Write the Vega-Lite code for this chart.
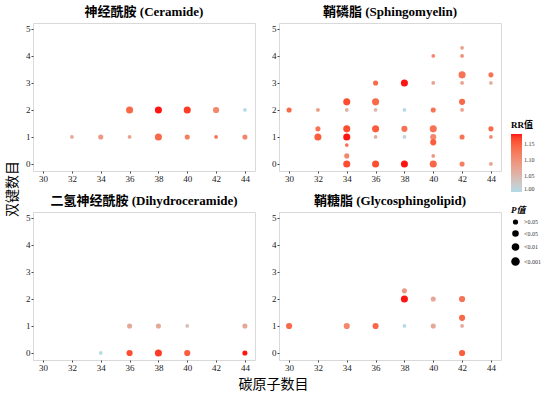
{
  "$schema": "https://vega.github.io/schema/vega-lite/v6.json",
  "background": "white",
  "padding": 5,
  "data": {"values": [
    {"class": "神经酰胺 (Ceramide)", "carbon": 36, "db": 2, "RR": 1.14, "P": "<0.001"},
    {"class": "神经酰胺 (Ceramide)", "carbon": 38, "db": 2, "RR": 1.18, "P": "<0.001"},
    {"class": "神经酰胺 (Ceramide)", "carbon": 40, "db": 2, "RR": 1.17, "P": "<0.001"},
    {"class": "神经酰胺 (Ceramide)", "carbon": 42, "db": 2, "RR": 1.11, "P": "<0.01"},
    {"class": "神经酰胺 (Ceramide)", "carbon": 44, "db": 2, "RR": 1.00, "P": ">0.05"},
    {"class": "神经酰胺 (Ceramide)", "carbon": 32, "db": 1, "RR": 1.07, "P": ">0.05"},
    {"class": "神经酰胺 (Ceramide)", "carbon": 34, "db": 1, "RR": 1.09, "P": "<0.05"},
    {"class": "神经酰胺 (Ceramide)", "carbon": 36, "db": 1, "RR": 1.08, "P": ">0.05"},
    {"class": "神经酰胺 (Ceramide)", "carbon": 38, "db": 1, "RR": 1.14, "P": "<0.001"},
    {"class": "神经酰胺 (Ceramide)", "carbon": 40, "db": 1, "RR": 1.12, "P": "<0.05"},
    {"class": "神经酰胺 (Ceramide)", "carbon": 42, "db": 1, "RR": 1.13, "P": ">0.05"},
    {"class": "神经酰胺 (Ceramide)", "carbon": 44, "db": 1, "RR": 1.11, "P": "<0.05"},

    {"class": "鞘磷脂 (Sphingomyelin)", "carbon": 30, "db": 2, "RR": 1.14, "P": "<0.05"},
    {"class": "鞘磷脂 (Sphingomyelin)", "carbon": 32, "db": 2, "RR": 1.09, "P": ">0.05"},
    {"class": "鞘磷脂 (Sphingomyelin)", "carbon": 32, "db": 1.3, "RR": 1.13, "P": "<0.05"},
    {"class": "鞘磷脂 (Sphingomyelin)", "carbon": 32, "db": 1, "RR": 1.15, "P": "<0.001"},
    {"class": "鞘磷脂 (Sphingomyelin)", "carbon": 34, "db": 2.3, "RR": 1.16, "P": "<0.001"},
    {"class": "鞘磷脂 (Sphingomyelin)", "carbon": 34, "db": 2, "RR": 1.06, "P": ">0.05"},
    {"class": "鞘磷脂 (Sphingomyelin)", "carbon": 34, "db": 1.3, "RR": 1.16, "P": "<0.001"},
    {"class": "鞘磷脂 (Sphingomyelin)", "carbon": 34, "db": 1, "RR": 1.18, "P": "<0.001"},
    {"class": "鞘磷脂 (Sphingomyelin)", "carbon": 34, "db": 0.7, "RR": 1.13, "P": ">0.05"},
    {"class": "鞘磷脂 (Sphingomyelin)", "carbon": 34, "db": 0.3, "RR": 1.11, "P": "<0.05"},
    {"class": "鞘磷脂 (Sphingomyelin)", "carbon": 34, "db": 0, "RR": 1.16, "P": "<0.001"},
    {"class": "鞘磷脂 (Sphingomyelin)", "carbon": 36, "db": 3, "RR": 1.14, "P": "<0.05"},
    {"class": "鞘磷脂 (Sphingomyelin)", "carbon": 36, "db": 2.3, "RR": 1.14, "P": "<0.001"},
    {"class": "鞘磷脂 (Sphingomyelin)", "carbon": 36, "db": 2, "RR": 1.05, "P": ">0.05"},
    {"class": "鞘磷脂 (Sphingomyelin)", "carbon": 36, "db": 1.3, "RR": 1.15, "P": "<0.001"},
    {"class": "鞘磷脂 (Sphingomyelin)", "carbon": 36, "db": 1, "RR": 1.06, "P": ">0.05"},
    {"class": "鞘磷脂 (Sphingomyelin)", "carbon": 36, "db": 0, "RR": 1.16, "P": "<0.001"},
    {"class": "鞘磷脂 (Sphingomyelin)", "carbon": 38, "db": 3, "RR": 1.18, "P": "<0.001"},
    {"class": "鞘磷脂 (Sphingomyelin)", "carbon": 38, "db": 2, "RR": 1.00, "P": ">0.05"},
    {"class": "鞘磷脂 (Sphingomyelin)", "carbon": 38, "db": 1.3, "RR": 1.13, "P": "<0.01"},
    {"class": "鞘磷脂 (Sphingomyelin)", "carbon": 38, "db": 1, "RR": 1.01, "P": ">0.05"},
    {"class": "鞘磷脂 (Sphingomyelin)", "carbon": 38, "db": 0, "RR": 1.18, "P": "<0.001"},
    {"class": "鞘磷脂 (Sphingomyelin)", "carbon": 40, "db": 4, "RR": 1.11, "P": ">0.05"},
    {"class": "鞘磷脂 (Sphingomyelin)", "carbon": 40, "db": 3, "RR": 1.08, "P": ">0.05"},
    {"class": "鞘磷脂 (Sphingomyelin)", "carbon": 40, "db": 2, "RR": 1.13, "P": "<0.05"},
    {"class": "鞘磷脂 (Sphingomyelin)", "carbon": 40, "db": 1.3, "RR": 1.13, "P": "<0.001"},
    {"class": "鞘磷脂 (Sphingomyelin)", "carbon": 40, "db": 1, "RR": 1.11, "P": "<0.01"},
    {"class": "鞘磷脂 (Sphingomyelin)", "carbon": 40, "db": 0.8, "RR": 1.15, "P": "<0.01"},
    {"class": "鞘磷脂 (Sphingomyelin)", "carbon": 40, "db": 0.3, "RR": 1.09, "P": ">0.05"},
    {"class": "鞘磷脂 (Sphingomyelin)", "carbon": 40, "db": 0, "RR": 1.14, "P": "<0.001"},
    {"class": "鞘磷脂 (Sphingomyelin)", "carbon": 42, "db": 4.3, "RR": 1.08, "P": ">0.05"},
    {"class": "鞘磷脂 (Sphingomyelin)", "carbon": 42, "db": 4, "RR": 1.10, "P": ">0.05"},
    {"class": "鞘磷脂 (Sphingomyelin)", "carbon": 42, "db": 3.3, "RR": 1.13, "P": "<0.001"},
    {"class": "鞘磷脂 (Sphingomyelin)", "carbon": 42, "db": 3, "RR": 1.08, "P": ">0.05"},
    {"class": "鞘磷脂 (Sphingomyelin)", "carbon": 42, "db": 2.3, "RR": 1.14, "P": "<0.01"},
    {"class": "鞘磷脂 (Sphingomyelin)", "carbon": 42, "db": 2, "RR": 1.08, "P": ">0.05"},
    {"class": "鞘磷脂 (Sphingomyelin)", "carbon": 42, "db": 1, "RR": 1.13, "P": "<0.05"},
    {"class": "鞘磷脂 (Sphingomyelin)", "carbon": 42, "db": 0, "RR": 1.12, "P": "<0.05"},
    {"class": "鞘磷脂 (Sphingomyelin)", "carbon": 44, "db": 3.3, "RR": 1.13, "P": "<0.05"},
    {"class": "鞘磷脂 (Sphingomyelin)", "carbon": 44, "db": 3, "RR": 1.06, "P": ">0.05"},
    {"class": "鞘磷脂 (Sphingomyelin)", "carbon": 44, "db": 1.3, "RR": 1.14, "P": "<0.05"},
    {"class": "鞘磷脂 (Sphingomyelin)", "carbon": 44, "db": 1, "RR": 1.11, "P": ">0.05"},
    {"class": "鞘磷脂 (Sphingomyelin)", "carbon": 44, "db": 0, "RR": 1.08, "P": ">0.05"},

    {"class": "二氢神经酰胺 (Dihydroceramide)", "carbon": 36, "db": 1, "RR": 1.07, "P": "<0.05"},
    {"class": "二氢神经酰胺 (Dihydroceramide)", "carbon": 38, "db": 1, "RR": 1.07, "P": "<0.05"},
    {"class": "二氢神经酰胺 (Dihydroceramide)", "carbon": 40, "db": 1, "RR": 1.04, "P": ">0.05"},
    {"class": "二氢神经酰胺 (Dihydroceramide)", "carbon": 44, "db": 1, "RR": 1.07, "P": "<0.05"},
    {"class": "二氢神经酰胺 (Dihydroceramide)", "carbon": 34, "db": 0, "RR": 1.00, "P": ">0.05"},
    {"class": "二氢神经酰胺 (Dihydroceramide)", "carbon": 36, "db": 0, "RR": 1.16, "P": "<0.01"},
    {"class": "二氢神经酰胺 (Dihydroceramide)", "carbon": 38, "db": 0, "RR": 1.17, "P": "<0.001"},
    {"class": "二氢神经酰胺 (Dihydroceramide)", "carbon": 40, "db": 0, "RR": 1.15, "P": "<0.01"},
    {"class": "二氢神经酰胺 (Dihydroceramide)", "carbon": 44, "db": 0, "RR": 1.18, "P": "<0.05"},

    {"class": "鞘糖脂 (Glycosphingolipid)", "carbon": 30, "db": 1, "RR": 1.14, "P": "<0.01"},
    {"class": "鞘糖脂 (Glycosphingolipid)", "carbon": 34, "db": 1, "RR": 1.11, "P": "<0.01"},
    {"class": "鞘糖脂 (Glycosphingolipid)", "carbon": 36, "db": 1, "RR": 1.14, "P": "<0.01"},
    {"class": "鞘糖脂 (Glycosphingolipid)", "carbon": 38, "db": 2.3, "RR": 1.09, "P": "<0.05"},
    {"class": "鞘糖脂 (Glycosphingolipid)", "carbon": 38, "db": 2, "RR": 1.18, "P": "<0.001"},
    {"class": "鞘糖脂 (Glycosphingolipid)", "carbon": 38, "db": 1, "RR": 1.00, "P": ">0.05"},
    {"class": "鞘糖脂 (Glycosphingolipid)", "carbon": 40, "db": 2, "RR": 1.07, "P": "<0.05"},
    {"class": "鞘糖脂 (Glycosphingolipid)", "carbon": 40, "db": 1, "RR": 1.07, "P": "<0.05"},
    {"class": "鞘糖脂 (Glycosphingolipid)", "carbon": 42, "db": 2, "RR": 1.13, "P": "<0.01"},
    {"class": "鞘糖脂 (Glycosphingolipid)", "carbon": 42, "db": 1.3, "RR": 1.14, "P": "<0.01"},
    {"class": "鞘糖脂 (Glycosphingolipid)", "carbon": 42, "db": 1, "RR": 1.07, "P": ">0.05"},
    {"class": "鞘糖脂 (Glycosphingolipid)", "carbon": 42, "db": 0, "RR": 1.15, "P": "<0.01"}
  ]},
  "title": {"text": "碳原子数目", "orient": "bottom", "anchor": "middle", "font": "Noto Sans CJK SC", "fontSize": 14, "fontWeight": "normal", "color": "#000", "offset": 5},
  "vconcat": [{
    "title": {"text": "双键数目", "orient": "left", "anchor": "middle", "font": "Noto Sans CJK SC", "fontSize": 14, "fontWeight": "normal", "color": "#000", "offset": 5},
    "facet": {
      "field": "class", "type": "nominal",
      "sort": ["神经酰胺 (Ceramide)", "鞘磷脂 (Sphingomyelin)", "二氢神经酰胺 (Dihydroceramide)", "鞘糖脂 (Glycosphingolipid)"],
      "header": {"title": null, "labelFont": "Liberation Serif, Noto Sans CJK SC", "labelFontSize": 13, "labelFontWeight": "bold", "labelColor": "#000", "labelPadding": 4}
    },
    "columns": 2,
    "spacing": {"row": 10, "column": 15},
    "resolve": {"axis": {"x": "independent", "y": "independent"}},
    "spec": {
      "width": 222,
      "height": 148,
      "mark": {"type": "circle", "opacity": 0.92},
      "encoding": {
        "x": {"field": "carbon", "type": "quantitative", "scale": {"domain": [29.3, 44.7], "nice": false, "zero": false}, "axis": {"values": [30, 32, 34, 36, 38, 40, 42, 44], "title": null}},
        "y": {"field": "db", "type": "quantitative", "scale": {"domain": [-0.26, 5.22], "nice": false, "zero": false}, "axis": {"values": [0, 1, 2, 3, 4, 5], "title": null}},
        "color": {"field": "RR", "type": "quantitative", "scale": {"domain": [1.0, 1.18], "range": ["#add8e6", "#ff0000"], "interpolate": "lab", "clamp": true},
          "legend": {"title": "RR值", "values": [1.0, 1.05, 1.1, 1.15], "format": ".2f", "orient": "none", "legendX": 478, "legendY": 98, "gradientLength": 58, "gradientThickness": 11}},
        "size": {"field": "P", "type": "ordinal", "scale": {"domain": [">0.05", "<0.05", "<0.01", "<0.001"], "range": [14, 50, 80, 115]},
          "legend": {"title": "P值", "titleFontStyle": "italic", "orient": "none", "legendX": 478, "legendY": 183, "symbolFillColor": "#000", "symbolStrokeColor": "#000", "symbolOpacity": 1, "rowPadding": 0}}
      }
    }
  }],
  "config": {
    "font": "Liberation Serif",
    "view": {"stroke": "#d9d9d9", "strokeWidth": 1},
    "axis": {"labelFont": "Liberation Serif", "labelFontSize": 9, "labelColor": "#222", "tickColor": "#444", "tickSize": 2, "domain": false, "grid": false, "labelPadding": 1},
    "legend": {"titleFont": "Liberation Serif, Noto Sans CJK SC", "titleFontSize": 9, "titleFontWeight": "bold", "titleColor": "#000", "labelFont": "Liberation Serif", "labelFontSize": 6, "labelColor": "#333", "symbolType": "circle", "rowPadding": 4, "titlePadding": 4}
  }
}
